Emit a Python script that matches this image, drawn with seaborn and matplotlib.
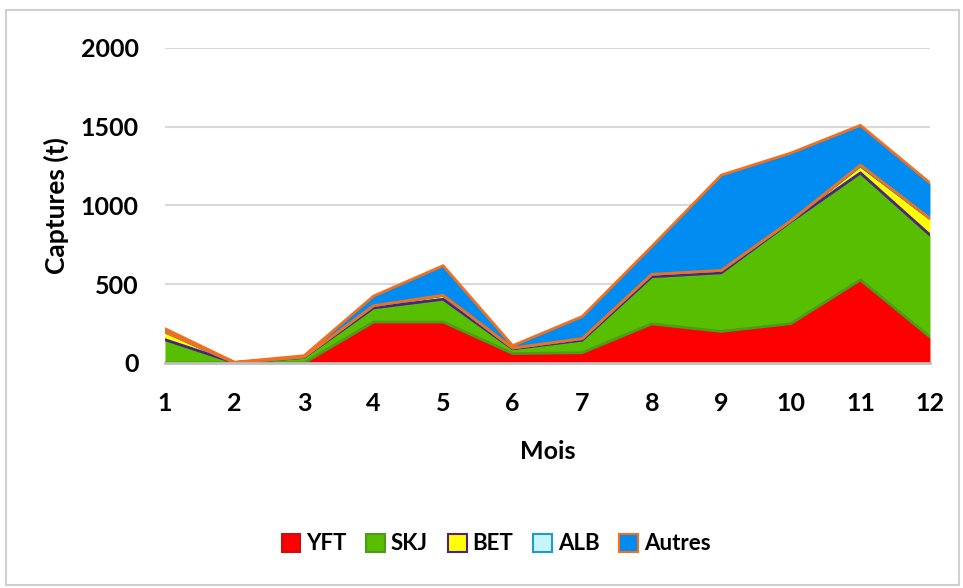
import matplotlib
matplotlib.use("Agg")
import matplotlib.pyplot as plt
from matplotlib.patches import Patch
import seaborn as sns
import numpy as np
import pandas as pd

months = list(range(1, 13))
yft = [0, 0, 0, 260, 260, 60, 65, 248, 200, 250, 527, 165]
skj = [148, 2, 35, 90, 145, 30, 80, 300, 373, 648, 680, 648]
bet = [50, 0, 3, 14, 25, 5, 10, 15, 15, 5, 45, 105]
alb = [0, 0, 0, 0, 0, 0, 0, 0, 0, 0, 5, 0]
autres = [20, 3, 8, 61, 188, 15, 140, 177, 605, 430, 252, 225]

series = ["YFT", "SKJ", "BET", "ALB", "Autres"]
fills = ["#FF0000", "#58BE00", "#FFFF00", "#C8F4FC", "#008CF0"]
edges = ["#C81010", "#4E9A1A", "#4B2386", "#1E9BC8", "#F07020"]

df = pd.DataFrame({"Mois": months, "YFT": yft, "SKJ": skj, "BET": bet,
                   "ALB": alb, "Autres": autres})

sns.set_theme(style="white")
plt.rcParams['font.family'] = ['Lato', 'DejaVu Sans']
plt.rcParams['font.weight'] = 'bold'
plt.rcParams['text.color'] = 'black'
plt.rcParams['axes.labelcolor'] = 'black'

fig = plt.figure(figsize=(9.63, 5.88), dpi=100)
ax = fig.add_axes([0.1713, 0.3827, 0.7944, 0.5357])

# border around the figure
fig.patches.append(plt.Rectangle((0.006, 0.005), 0.99, 0.978, transform=fig.transFigure,
                                 fill=False, edgecolor="#D0D0D0", linewidth=1.5))

# stacked areas, each outlined (bottom + top) in its own edge colour, later series on top
base = np.zeros(len(months))
z = 2
for name, fc, ec in zip(series, fills, edges):
    top = base + df[name].values
    ax.fill_between(df["Mois"], base, top, color=fc, linewidth=0, zorder=z)
    sns.lineplot(x=df["Mois"], y=base, color=ec, linewidth=2, ax=ax, zorder=z + 0.5)
    sns.lineplot(x=df["Mois"], y=top, color=ec, linewidth=2, ax=ax, zorder=z + 0.5)
    base = top
    z += 1

ax.set_xlim(1, 12)
ax.set_ylim(0, 2000)
ax.set_yticks([0, 500, 1000, 1500, 2000])
ax.set_xticks(months)
ax.yaxis.grid(True, color="#D9D9D9", linewidth=1.5, zorder=0)
ax.set_axisbelow(True)
for s in ["top", "right", "left"]:
    ax.spines[s].set_visible(False)
ax.spines["bottom"].set_color("#BFBFBF")
ax.spines["bottom"].set_linewidth(2)
ax.spines["bottom"].set_zorder(10)
ax.tick_params(axis="x", which="major", direction="out", length=7, width=1.5,
               color="#BFBFBF", labelcolor="black", labelsize=18, pad=14)
ax.tick_params(axis="y", length=0, labelsize=18, labelcolor="black", pad=19)
for lab in ax.get_xticklabels() + ax.get_yticklabels():
    lab.set_fontweight("bold")

ax.set_xlabel("Mois", fontsize=18, fontweight="bold", labelpad=18)
ax.set_ylabel("Captures (t)", fontsize=19, fontweight="bold", labelpad=8)

handles = [Patch(facecolor=fc, edgecolor=ec, linewidth=1.5, label=n)
           for n, fc, ec in zip(series, fills, edges)]
fig.legend(handles=handles, loc="center", bbox_to_anchor=(0.515, 0.075), ncol=5,
           frameon=False, handlelength=0.85, handleheight=0.85,
           handletextpad=0.25, columnspacing=0.9, prop={"weight": "bold", "size": 16})

fig.savefig("out.png", dpi=100)
